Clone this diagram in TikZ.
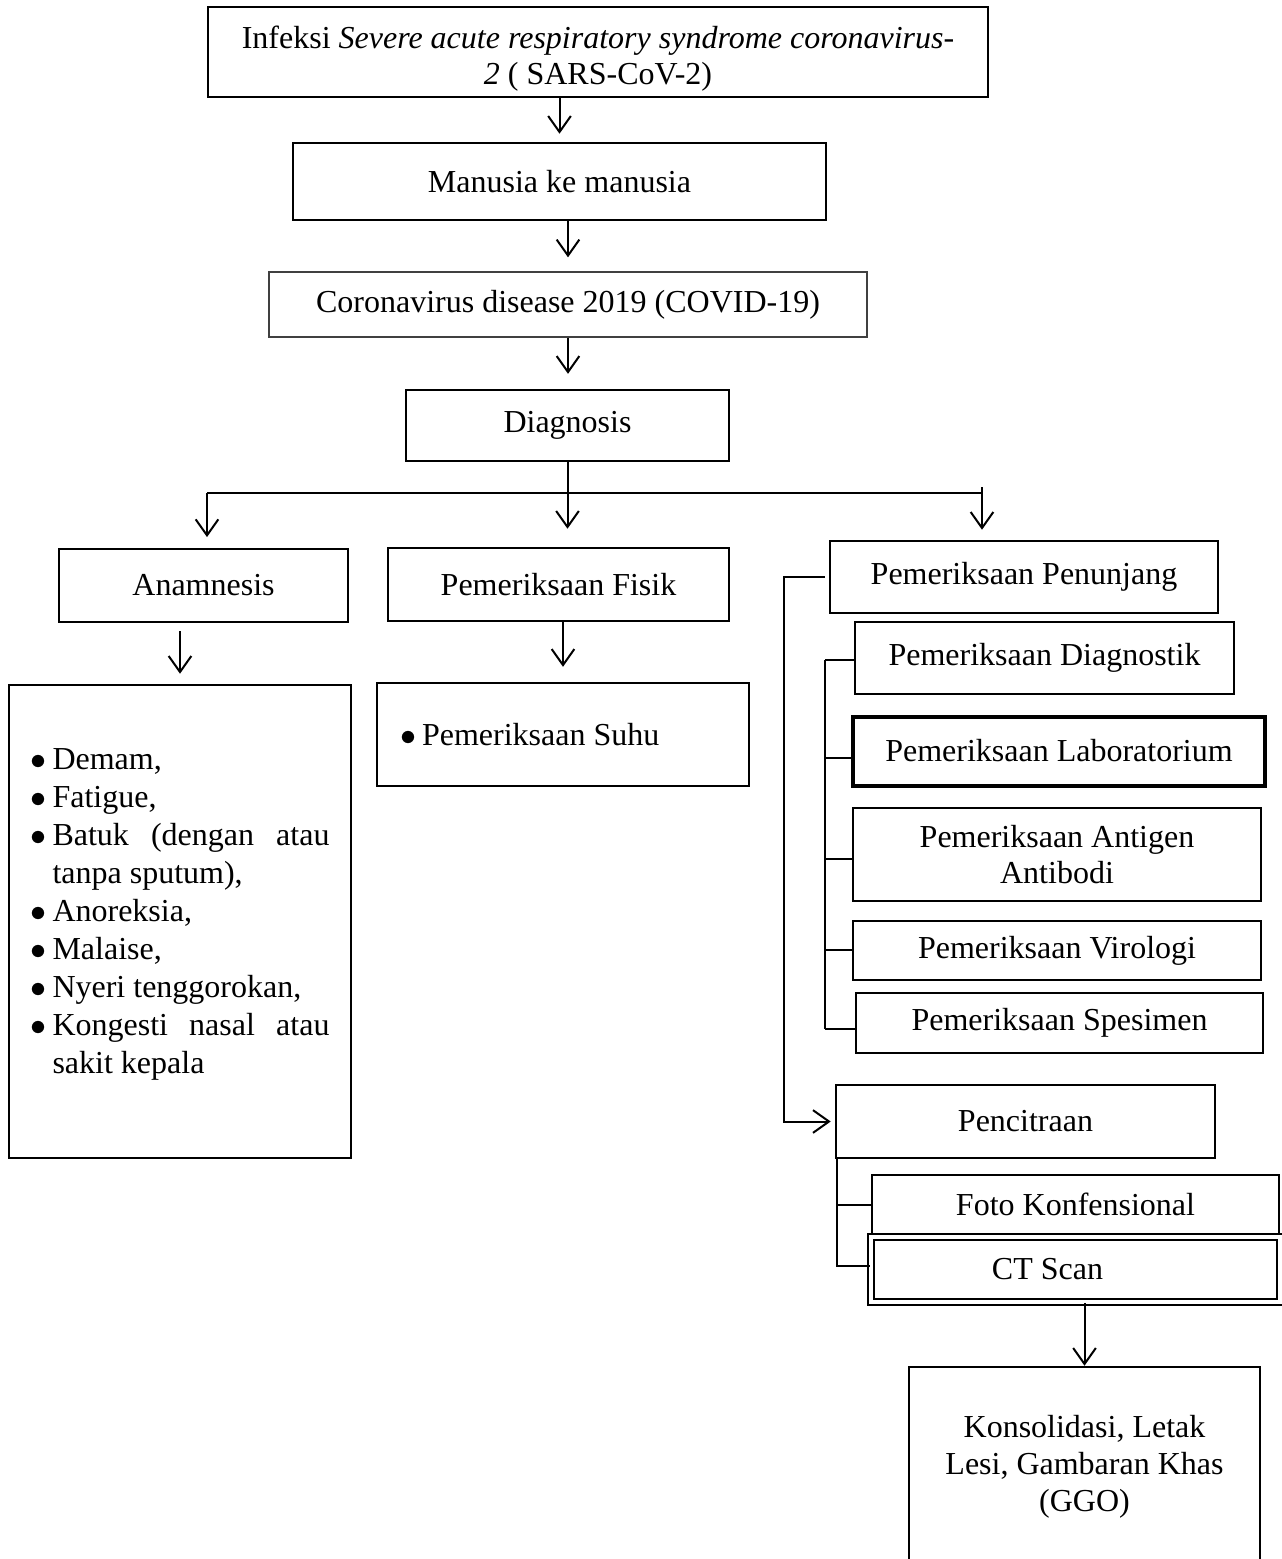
\documentclass[tikz,border=0pt]{standalone}
\usepackage{fontspec}
\setmainfont{Liberation Serif}
\usetikzlibrary{arrows.meta}
\newlength{\pxu}
\setlength{\pxu}{0.375pt}
\newcommand{\butir}[1]{\hangindent=22\pxu\hangafter=1\makebox[22\pxu][l]{$\bullet$}#1\par}

\begin{document}
\begin{tikzpicture}[x=1\pxu,y=-1\pxu,
  every node/.style={font=\fontsize{12}{13.8}\selectfont},
  kotak/.style n args={2}{draw,line width=0.95pt,inner sep=0pt,align=center,minimum width=#1\pxu,minimum height=#2\pxu},
  garis/.style={line width=0.75pt},
  panah/.style={garis,-{Straight Barb[length=6pt,width=8.5pt]}}]
\useasboundingbox (0,0) rectangle (1282,1559);

% alur utama
\node[kotak={780}{90}] (infeksi) at (598,52)
  {\rule{0pt}{13.5pt}Infeksi \textit{Severe acute respiratory syndrome coronavirus-}\\\textit{2} ( SARS-CoV-2)};
\node[kotak={533}{77}] (manusia) at (559.5,181.5) {Manusia ke manusia};
\node[kotak={598}{65},line width=0.5pt,draw=black!75] (corona) at (568,304.5) {Coronavirus disease 2019 (COVID-19)};
\node[kotak={323}{71}] (diag) at (567.5,425.5) {Diagnosis};

\draw[panah,shorten >=3pt] (infeksi.south -| manusia.north) -- (manusia.north);
\draw[panah,shorten >=5.25pt] (manusia.south -| corona.north) -- (corona.north);
\draw[panah,shorten >=5.6pt] (corona.south) -- (corona.south |- diag.north);

% cabang diagnosis
\node[kotak={289}{73}] (anam) at (203.5,585.5) {Anamnesis};
\node[kotak={341}{73}] (fisik) at (558.5,584.5) {Pemeriksaan Fisik};
\node[kotak={388}{72}] (tunjang) at (1024,577) {Pemeriksaan Penunjang};

\coordinate (busL) at (207,493);
\coordinate (busR) at (982,493);
\draw[garis] (busL) -- (busR);
\draw[panah,shorten >=6.75pt] (diag.south) -- (diag.south |- fisik.north);
\draw[panah,shorten >=4pt] (busL) -- (busL |- anam.north);
\draw[panah,shorten >=3.75pt] ([yshift=6\pxu]busR) -- (busR |- tunjang.north);

% anamnesis dan fisik
\node[kotak={342}{473},align=justify,text width=299\pxu,
  font=\fontsize{12}{14.25}\selectfont] (gejala) at (180,921.5) {%
  \hyphenpenalty=10000\relax
  \butir{Demam,}
  \butir{Fatigue,}
  \butir{Batuk (dengan atau tanpa sputum),}
  \butir{Anoreksia,}
  \butir{Malaise,}
  \butir{Nyeri tenggorokan,}
  \butir{Kongesti nasal atau sakit kepala\rule[-7.9pt]{0pt}{0pt}}};
\node[kotak={372}{103},align=flush left,text width=326\pxu] (suhu) at (563,734.5)
  {\makebox[22\pxu][l]{$\bullet$}Pemeriksaan Suhu};

\draw[panah,shorten <=3pt,shorten >=3.75pt] (anam.south -| gejala.north) -- (gejala.north);
\draw[panah,shorten >=5.6pt] (fisik.south -| suhu.north) -- (suhu.north);

% pemeriksaan penunjang
\node[kotak={379}{72}] (diagn) at (1044.5,658) {Pemeriksaan Diagnostik};
\node[kotak={412}{69},line width=1.5pt] (lab) at (1059,751) {Pemeriksaan Laboratorium};
\node[kotak={408}{93}] (antigen) at (1057,854.5) {Pemeriksaan Antigen\\Antibodi};
\node[kotak={408}{59}] (viro) at (1057,950.5) {Pemeriksaan Virologi};
\node[kotak={407}{60}] (spes) at (1059.5,1023) {Pemeriksaan Spesimen};

\coordinate (tulang) at (825,660);
\foreach \n/\dy in {diagn/-2,lab/-7,antigen/-4,viro/1,spes/-6}
  \draw[garis] ([yshift=\dy\pxu]\n.west) -- ([yshift=\dy\pxu]\n.west -| tulang);
\draw[garis] ([yshift=-2\pxu]diagn.west -| tulang) -- ([yshift=-6\pxu]spes.west -| tulang);

% pencitraan
\node[kotak={379}{73}] (citra) at (1025.5,1121.5) {Pencitraan};
\node[kotak={407}{59}] (foto) at (1075.5,1204.5) {Foto Konfensional};
\node[kotak={409}{65},line width=0.7pt,double,double distance=1.3pt] (ct) at (1075.5,1269.5) {CT Scan\hspace*{21pt}};
\node[kotak={351}{200}] (hasil) at (1084.5,1467) {Konsolidasi, Letak\\Lesi, Gambaran Khas\\(GGO)};

\draw[panah,shorten <=1.5pt,shorten >=1.5pt] (tunjang.west) -- ++(-45,0) |- (citra.west);
\draw[garis] ([xshift=2\pxu]citra.south west) |- ([yshift=4\pxu]ct.west);
\draw[garis] (foto.west) -- ([xshift=2\pxu]foto.west -| citra.south west);
\draw[panah] (ct.south -| hasil.north) -- (hasil.north);
\end{tikzpicture}
\end{document}
